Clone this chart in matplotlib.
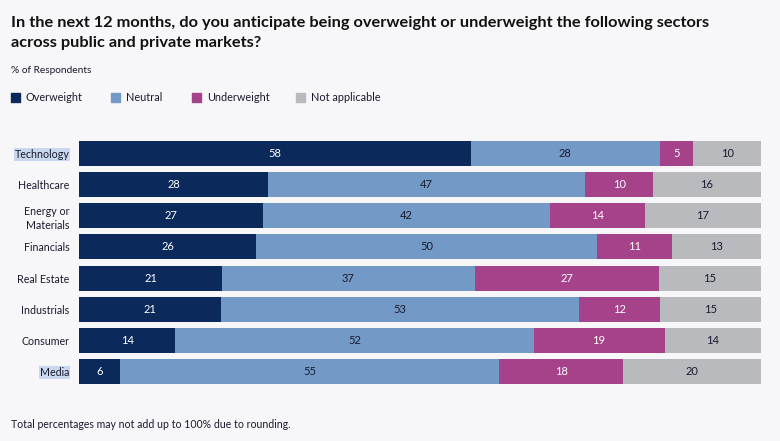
import matplotlib.pyplot as plt
import numpy as np

plt.rcParams['font.family'] = ['Lato', 'DejaVu Sans']

sectors = ["Technology", "Healthcare", "Energy or\nMaterials", "Financials",
           "Real Estate", "Industrials", "Consumer", "Media"]
series = ["Overweight", "Neutral", "Underweight", "Not applicable"]
overweight = [58, 28, 27, 26, 21, 21, 14, 6]
neutral = [28, 47, 42, 50, 37, 53, 52, 55]
underweight = [5, 10, 14, 11, 27, 12, 19, 18]
not_applicable = [10, 16, 17, 13, 15, 15, 14, 20]

colors = ["#0b2a5b", "#7399c6", "#a5428a", "#b9babd"]
text_colors = ["white", "#1a1a2e", "white", "#1a1a2e"]
bg = "#f7f7f9"

W, H = 780, 441
fig = plt.figure(figsize=(W / 100, H / 100), dpi=100, facecolor=bg)
ax = fig.add_axes([79 / W, 1 - 387.1 / H, (761 - 79) / W, (387.1 - 137.9) / H])
ax.set_facecolor(bg)

data = np.array([overweight, neutral, underweight, not_applicable], dtype=float)
totals = data.sum(axis=0)
widths = data / totals * 100
y = np.arange(len(sectors))
left = np.zeros(len(sectors))
for i, name in enumerate(series):
    ax.barh(y, widths[i], left=left, height=0.8, color=colors[i], label=name)
    for j in range(len(sectors)):
        ax.text(left[j] + widths[i][j] / 2, y[j], str(int(data[i][j])),
                ha="center", va="center", fontsize=8, color=text_colors[i])
    left += widths[i]

ax.set_xlim(0, 100)
ax.set_ylim(len(sectors) - 0.5, -0.5)
ax.set_xticks([])
ax.set_yticks(y)
ax.set_yticklabels(sectors, fontsize=7.7, color="#1a1a2e", linespacing=1.35)
ax.tick_params(axis="y", length=0, pad=7)
for s in ax.spines.values():
    s.set_visible(False)

# selection highlight seen in the source image
hl = "#c9d8ee"
for lab in (ax.get_yticklabels()[0], ax.get_yticklabels()[-1]):
    lab.set_bbox(dict(facecolor=hl, edgecolor="none", pad=0.5))

def px(x, yy):
    return x / W, 1 - yy / H

title_lines = ["In the next 12 months, do you anticipate being overweight or underweight the following sectors",
               "across public and private markets?"]
for k, line in enumerate(title_lines):
    fig.text(*px(11, 27 + 20 * k), line, fontsize=11.8, fontweight="bold",
             color="#111111", va="baseline")
fig.text(*px(11, 73), "% of Respondents", fontsize=7.3, color="#1a1a2e", va="baseline")

leg_x = [11, 111, 192, 296]
for xx, name, c in zip(leg_x, series, colors):
    fig.patches.append(plt.Rectangle(px(xx, 102), 9 / W, 9 / H, color=c,
                                     transform=fig.transFigure, figure=fig))
    fig.text(*px(xx + 15, 101), name, fontsize=7.8, color="#1a1a2e", va="baseline")

fig.text(*px(11, 428), "Total percentages may not add up to 100% due to rounding.",
         fontsize=7.6, color="#1a1a2e", va="baseline")

fig.savefig("out.png", dpi=100, facecolor=bg)
